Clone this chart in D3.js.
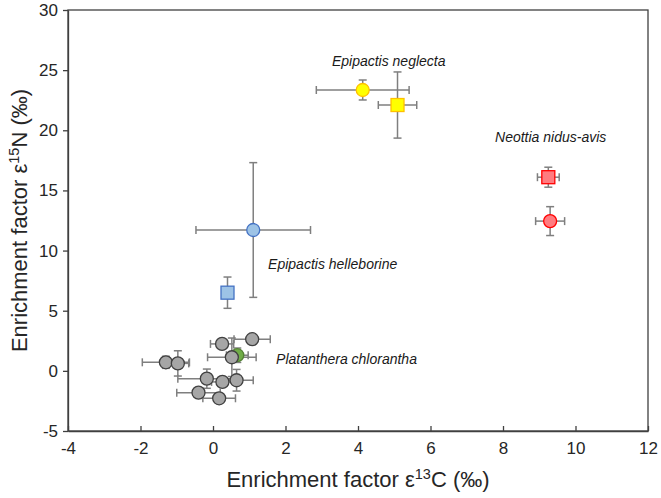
<!DOCTYPE html>
<html><head><meta charset="utf-8">
<script src="https://cdn.jsdelivr.net/npm/d3@7"></script>
<style>body{margin:0;background:#fff}svg{display:block}text{font-family:"Liberation Sans",Arial,sans-serif}</style>
</head><body><div id="chart"></div>
<script>
// ---- data ----
const xTicks = [-4,-2,0,2,4,6,8,10,12];
const yTicks = [-5,0,5,10,15,20,25,30];

const neglectaCircleX = [4.13], neglectaCircleY = [23.35], neglectaCircleXe = [1.28], neglectaCircleYe = [0.83];
const neglectaSquareX = [5.09], neglectaSquareY = [22.1], neglectaSquareXe = [0.53], neglectaSquareYe = [2.75];
const neottiaSquareX = [9.25], neottiaSquareY = [16.1], neottiaSquareXe = [0.3], neottiaSquareYe = [0.83];
const neottiaCircleX = [9.30], neottiaCircleY = [12.45], neottiaCircleXe = [0.4], neottiaCircleYe = [1.2];
const helleCircleX = [1.11], helleCircleY = [11.71], helleCircleXe = [1.58], helleCircleYe = [5.6];
const helleSquareX = [0.40], helleSquareY = [6.5], helleSquareXe = [0.15], helleSquareYe = [1.3];
const platGreenX = [0.67], platGreenY = [1.3], platGreenXe = [0.3], platGreenYe = [0.6];
const grayX  = [-1.30,-0.97,-0.17,-0.40,0.17,0.26,0.65,0.25,1.08,0.52];
const grayY  = [0.71,0.62,-0.65,-1.81,-2.28,-0.92,-0.78,2.24,2.63,1.13];
const grayXe = [0.65,0.3,0.8,0.6,0.45,0.3,0.46,0.32,0.5,0.67];
const grayYe = [0.5,1.05,0.8,0.2,0.2,0.35,0.9,0.2,0.35,1.6];

const labelText = ["Epipactis neglecta","Neottia nidus-avis","Epipactis helleborine","Platanthera chlorantha"];
const labelX = [3.28, 7.78, 1.52, 1.74];
const labelY = [25.35, 19.0, 8.5, 0.55];

const W=661,H=498, m={l:68,r:13,t:10,b:67};
const svg=d3.select("#chart").append("svg").attr("width",W).attr("height",H);
const x=d3.scaleLinear().domain([-4,12]).range([m.l,W-m.r]);
const y=d3.scaleLinear().domain([-5,30]).range([H-m.b,m.t]);
const axisCol="#404040";

// box
svg.append("rect").attr("x",m.l).attr("y",m.t).attr("width",W-m.r-m.l).attr("height",H-m.b-m.t)
  .attr("fill","none").attr("stroke",axisCol).attr("stroke-width",1.3);

// axes
const fmt=d=>String(d);
const gx=svg.append("g").attr("transform",`translate(0,${H-m.b})`)
  .call(d3.axisBottom(x).tickValues(xTicks).tickFormat(fmt).tickSizeInner(-5).tickSizeOuter(0).tickPadding(11));
const gy=svg.append("g").attr("transform",`translate(${m.l},0)`)
  .call(d3.axisLeft(y).tickValues(yTicks).tickFormat(fmt).tickSize(5).tickSizeOuter(0).tickPadding(5));
[gx,gy].forEach(g=>{
  g.select(".domain").attr("stroke",axisCol).attr("stroke-width",1.3);
  g.selectAll(".tick line").attr("stroke",axisCol).attr("stroke-width",1.3);
  g.selectAll(".tick text").attr("font-size",17).attr("fill","#262626").attr("font-family","Liberation Sans, Arial, sans-serif");
});

// axis titles
const xt=svg.append("text").attr("x",(m.l+W-m.r)/2).attr("y",487).attr("text-anchor","middle")
  .attr("font-size",22).attr("fill","#262626");
xt.append("tspan").text("Enrichment factor ε");
xt.append("tspan").attr("font-size",14.5).attr("dy",-8).text("13");
xt.append("tspan").attr("dy",8).text("C (‰)");
const yt=svg.append("text").attr("transform",`translate(27,${(m.t+H-m.b)/2}) rotate(-90)`).attr("text-anchor","middle")
  .attr("font-size",22).attr("fill","#262626");
yt.append("tspan").text("Enrichment factor ε");
yt.append("tspan").attr("font-size",14.5).attr("dy",-8).text("15");
yt.append("tspan").attr("dy",8).text("N (‰)");

function pts(X,Y,XE,YE){return X.map((v,i)=>({x:v,y:Y[i],xe:XE[i],ye:YE[i]}));}
const errCol="#7f7f7f", cap=4;
function errbars(data){
  const g=svg.append("g").attr("stroke",errCol).attr("stroke-width",1.5).attr("fill","none");
  data.forEach(d=>{
    const cx=x(d.x), cy=y(d.y), x0=x(d.x-d.xe), x1=x(d.x+d.xe), y0=y(d.y-d.ye), y1=y(d.y+d.ye);
    g.append("line").attr("x1",x0).attr("x2",x1).attr("y1",cy).attr("y2",cy);
    g.append("line").attr("x1",x0).attr("x2",x0).attr("y1",cy-cap).attr("y2",cy+cap);
    g.append("line").attr("x1",x1).attr("x2",x1).attr("y1",cy-cap).attr("y2",cy+cap);
    g.append("line").attr("x1",cx).attr("x2",cx).attr("y1",y0).attr("y2",y1);
    g.append("line").attr("x1",cx-cap).attr("x2",cx+cap).attr("y1",y0).attr("y2",y0);
    g.append("line").attr("x1",cx-cap).attr("x2",cx+cap).attr("y1",y1).attr("y2",y1);
  });
}
function circles(data,fill,stroke){
  svg.append("g").selectAll("circle").data(data).join("circle")
    .attr("cx",d=>x(d.x)).attr("cy",d=>y(d.y)).attr("r",6.5)
    .attr("fill",fill).attr("stroke",stroke).attr("stroke-width",1.3);
}
function squares(data,fill,stroke){
  const s=13;
  svg.append("g").selectAll("rect").data(data).join("rect")
    .attr("x",d=>x(d.x)-s/2).attr("y",d=>y(d.y)-s/2).attr("width",s).attr("height",s)
    .attr("fill",fill).attr("stroke",stroke).attr("stroke-width",1.3);
}

const green=pts(platGreenX,platGreenY,platGreenXe,platGreenYe);
const gray=pts(grayX,grayY,grayXe,grayYe);
errbars(green); errbars(gray);
circles(green,"#70AD47","#548235");
circles(gray,"#A6A6A6","#404040");

const hs=pts(helleSquareX,helleSquareY,helleSquareXe,helleSquareYe);
const hc=pts(helleCircleX,helleCircleY,helleCircleXe,helleCircleYe);
errbars(hs); squares(hs,"#9DC3E6","#4472C4");
errbars(hc); circles(hc,"#9DC3E6","#4472C4");

const nc=pts(neglectaCircleX,neglectaCircleY,neglectaCircleXe,neglectaCircleYe);
const ns=pts(neglectaSquareX,neglectaSquareY,neglectaSquareXe,neglectaSquareYe);
errbars(nc); errbars(ns);
circles(nc,"#FFFF00","#FFC000"); squares(ns,"#FFFF00","#FFC000");

const os=pts(neottiaSquareX,neottiaSquareY,neottiaSquareXe,neottiaSquareYe);
const oc=pts(neottiaCircleX,neottiaCircleY,neottiaCircleXe,neottiaCircleYe);
errbars(os); errbars(oc);
squares(os,"#FF7C80","#FF0000"); circles(oc,"#FF7C80","#FF0000");

svg.append("g").selectAll("text").data(labelText).join("text")
  .attr("x",(d,i)=>x(labelX[i])).attr("y",(d,i)=>y(labelY[i])).attr("font-size",14).attr("font-style","italic")
  .attr("fill","#1a1a1a").text(d=>d);
</script></body></html>
